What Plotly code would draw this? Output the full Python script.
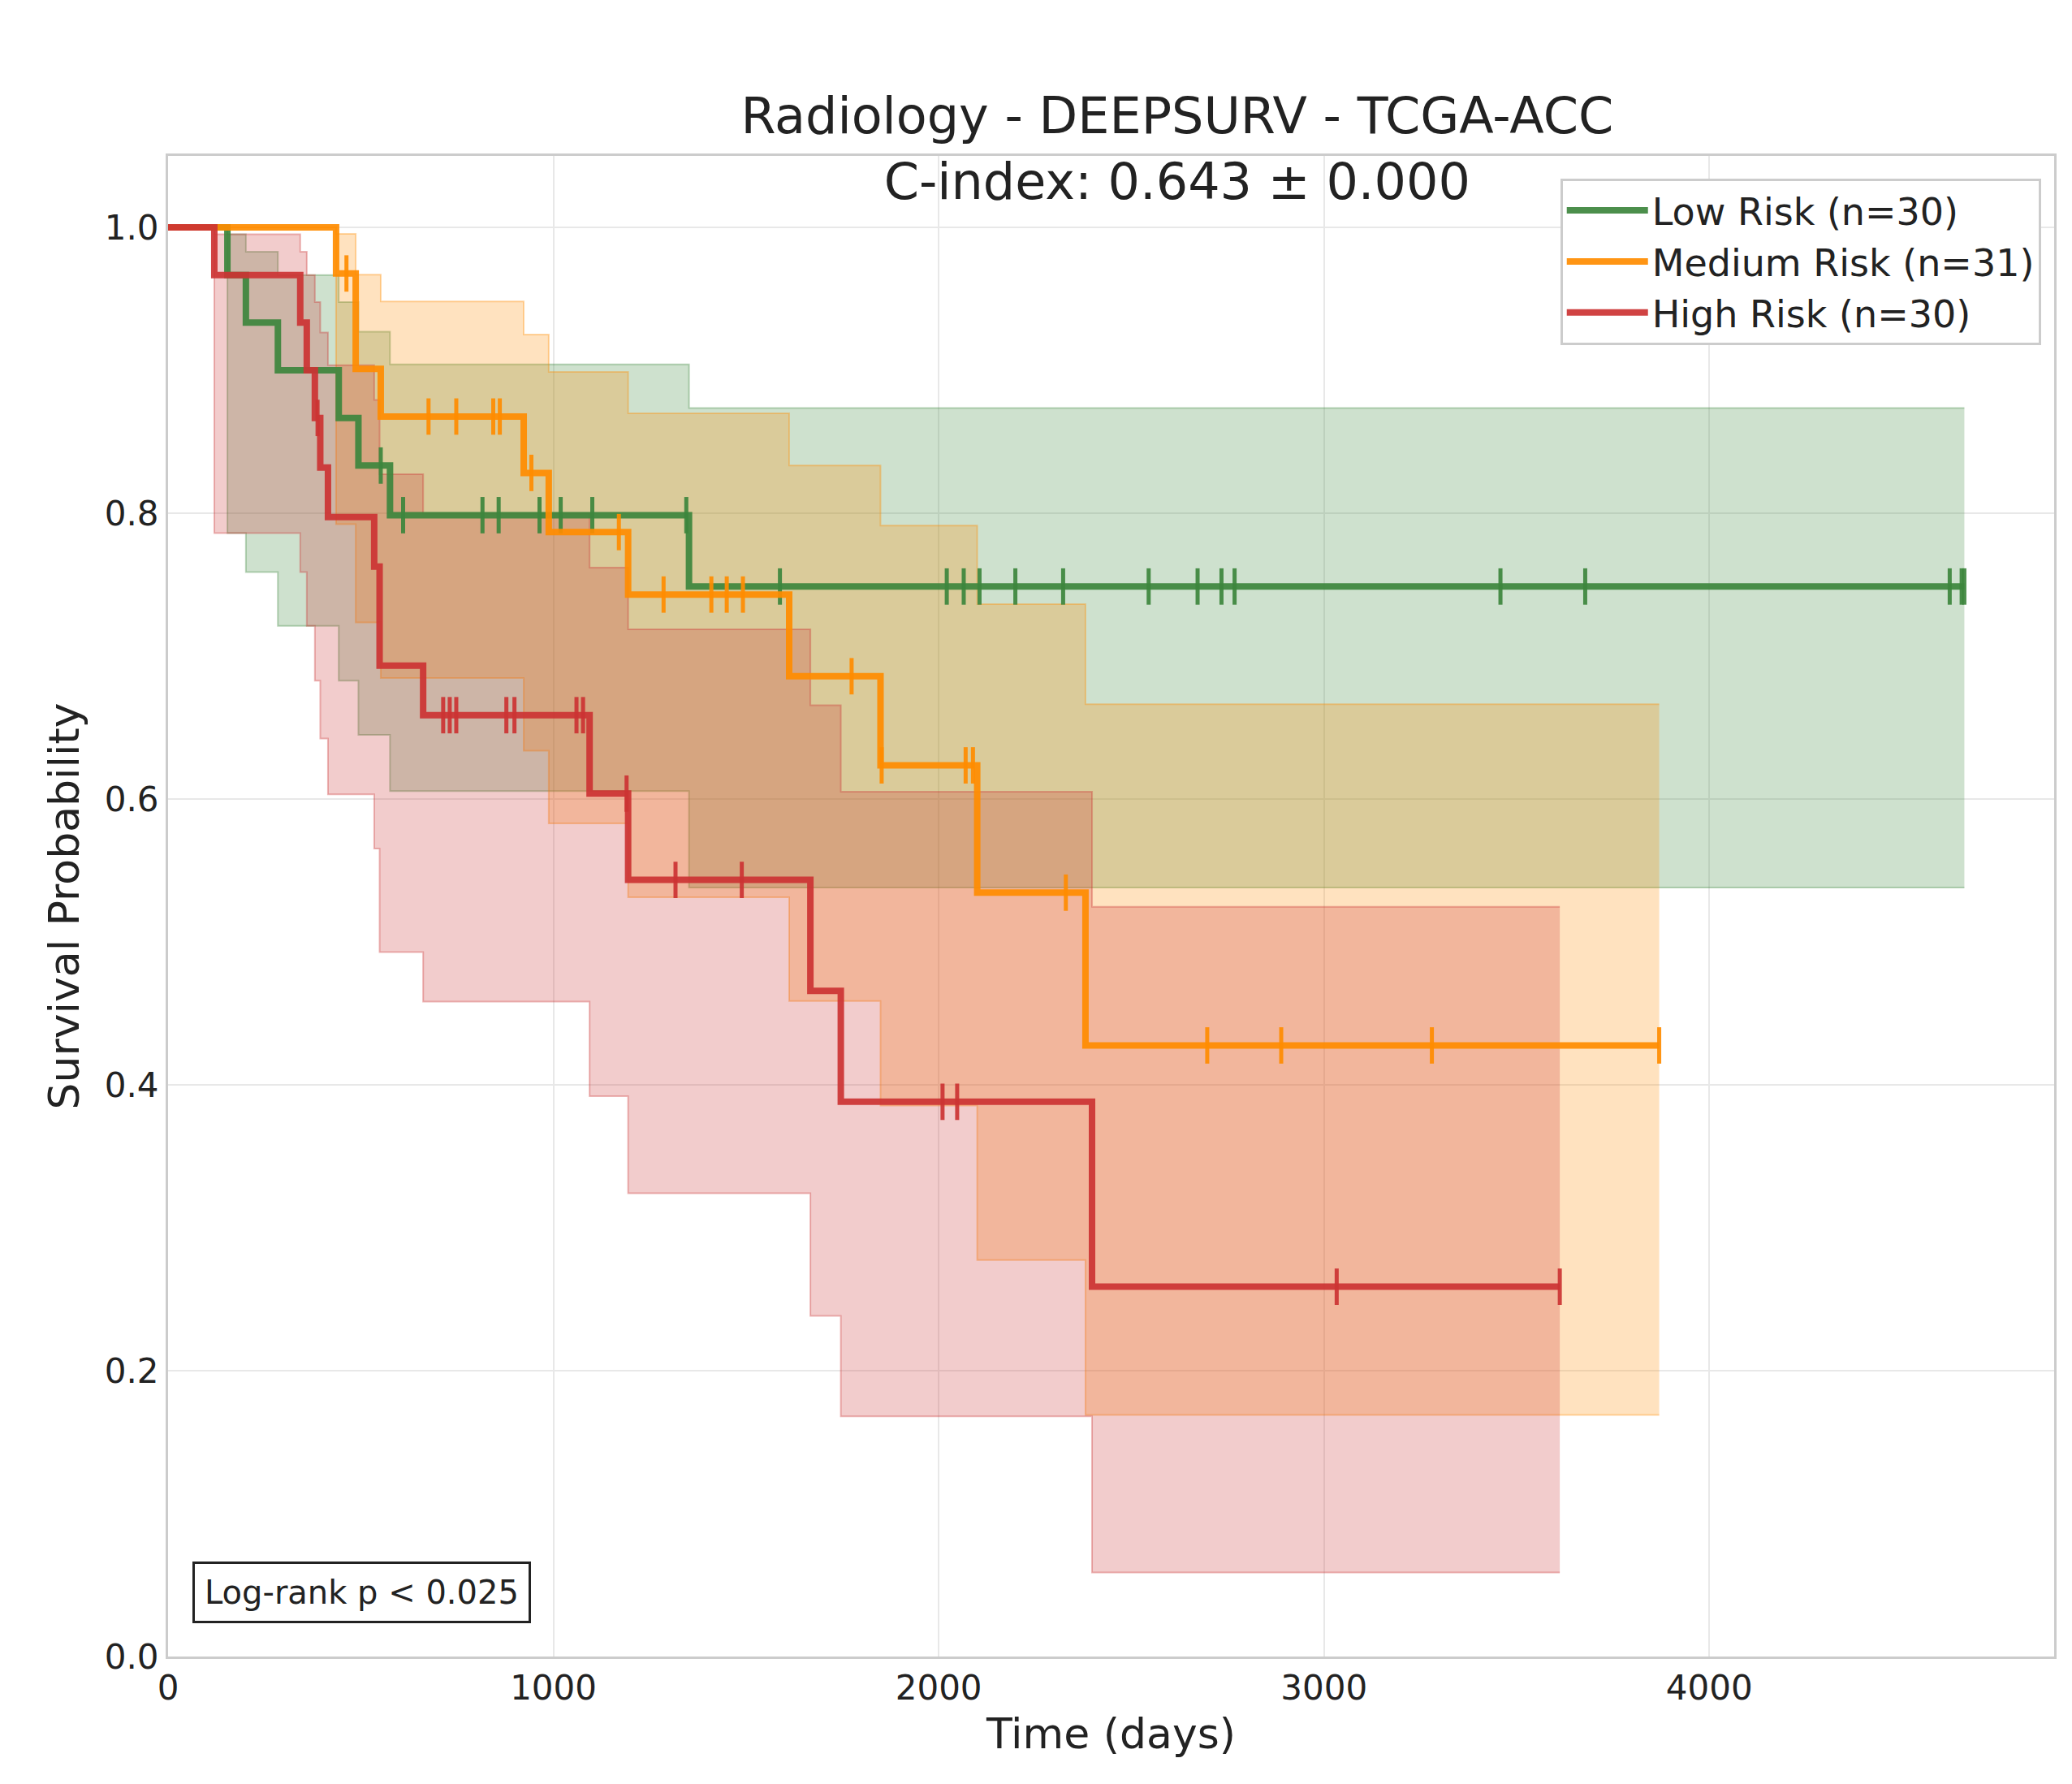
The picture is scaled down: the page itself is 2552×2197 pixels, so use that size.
import numpy as np
import plotly.graph_objects as go

# event / censor times (days)
low_events = [154, 202, 285, 443, 494, 576, 1352]
low_censored = [552, 610, 816, 858, 964, 1019, 1101, 1345, 1588, 2021, 2065, 2106, 2199,
                2323, 2545, 2672, 2734, 2768, 3458, 3678, 4624, 4655, 4662]
med_events = [436, 487, 487, 552, 923, 988, 1194, 1612, 1849, 2100, 2381]
med_censored = [463, 676, 748, 844, 861, 943, 1170, 1286, 1410, 1450, 1492, 1774, 1852,
                2070, 2089, 2330, 2697, 2889, 3280, 3870]
high_events = [120, 343, 360, 381, 395, 415, 535, 549, 549, 662, 1094, 1194, 1667, 1746, 2398]
high_censored = [388, 714, 731, 748, 878, 899, 1060, 1077, 1190, 1317, 1489, 2010, 2048,
                 3033, 3612]

groups = [
    ("Low Risk (n=30)", low_events, low_censored, "61,134,61"),
    ("Medium Risk (n=31)", med_events, med_censored, "255,140,0"),
    ("High Risk (n=30)", high_events, high_censored, "204,51,51"),
]


def kaplan_meier(events, censored):
    ev = np.array(events, float)
    ce = np.array(censored, float)
    times = np.unique(np.concatenate([ev, ce]))
    n = len(ev) + len(ce)
    s, v = 1.0, 0.0
    t_out, s_out, lo, hi = [0.0], [1.0], [1.0], [1.0]
    cens_s = []
    for t in times:
        d = int((ev == t).sum())
        c = int((ce == t).sum())
        if d > 0:
            s *= (n - d) / n
            if n - d > 0:
                v += d / (n * (n - d))
        t_out.append(t)
        s_out.append(s)
        if s < 1 and s > 0:
            se = np.sqrt(v) / abs(np.log(s))
            c0 = np.log(-np.log(s))
            lo.append(np.exp(-np.exp(c0 + 1.96 * se)))
            hi.append(np.exp(-np.exp(c0 - 1.96 * se)))
        else:
            lo.append(lo[-1] if s > 0 else 0)
            hi.append(hi[-1])
        if c > 0:
            cens_s.append((t, s))
        n -= d + c
    return t_out, s_out, lo, hi, cens_s


fig = go.Figure()
for name, ev, ce, rgb in groups:
    t, s, lo, hi, cs = kaplan_meier(ev, ce)
    fig.add_trace(go.Scatter(x=t, y=hi, mode="lines", line_shape="hv",
                             line=dict(color=f"rgba({rgb},0.35)", width=2),
                             showlegend=False, hoverinfo="skip"))
    fig.add_trace(go.Scatter(x=t, y=lo, mode="lines", line_shape="hv",
                             line=dict(color=f"rgba({rgb},0.35)", width=2),
                             fill="tonexty", fillcolor=f"rgba({rgb},0.25)",
                             showlegend=False, hoverinfo="skip"))
for name, ev, ce, rgb in groups:
    t, s, lo, hi, cs = kaplan_meier(ev, ce)
    fig.add_trace(go.Scatter(x=t, y=s, mode="lines", line_shape="hv", name=name,
                             line=dict(color=f"rgba({rgb},0.92)", width=8)))
    fig.add_trace(go.Scatter(x=[p[0] for p in cs], y=[p[1] for p in cs], mode="markers",
                             marker=dict(symbol="line-ns", size=32,
                                         line=dict(color=f"rgba({rgb},0.92)", width=5)),
                             showlegend=False))

fig.add_annotation(text="Log-rank p < 0.025", xref="paper", yref="paper", x=0.013, y=0.022,
                   xanchor="left", yanchor="bottom", showarrow=False,
                   font=dict(size=40, color="#222"), bordercolor="#222", borderwidth=3,
                   borderpad=12, bgcolor="white")

axis = dict(showgrid=True, gridcolor="#e8e8e8", gridwidth=2, zeroline=False,
            showline=True, linecolor="#cccccc", linewidth=3, mirror=True,
            tickfont=dict(size=42, color="#222"), ticks="")
fig.update_layout(
    width=2552, height=2197, paper_bgcolor="white", plot_bgcolor="white",
    font=dict(family="DejaVu Sans", color="#222"),
    title=dict(text="Radiology - DEEPSURV - TCGA-ACC<br>C-index: 0.643 ± 0.000",
               x=0.535, xanchor="center", xref="paper", yref="paper", y=1.0,
               yanchor="bottom", pad=dict(b=28), font=dict(size=62)),
    margin=dict(l=199, r=30, t=184, b=165),
    xaxis=dict(axis, range=[0, 4895], dtick=1000,
               title=dict(text="Time (days)", font=dict(size=52))),
    yaxis=dict(axis, range=[0, 1.05], dtick=0.2, tickformat=".1f",
               title=dict(text="Survival Probability", font=dict(size=52))),
    legend=dict(x=0.993, y=0.985, xanchor="right", yanchor="top", traceorder="normal",
                bgcolor="white", bordercolor="#cccccc", borderwidth=3,
                font=dict(size=46), itemwidth=100),
)

fig.write_html("out.html")
